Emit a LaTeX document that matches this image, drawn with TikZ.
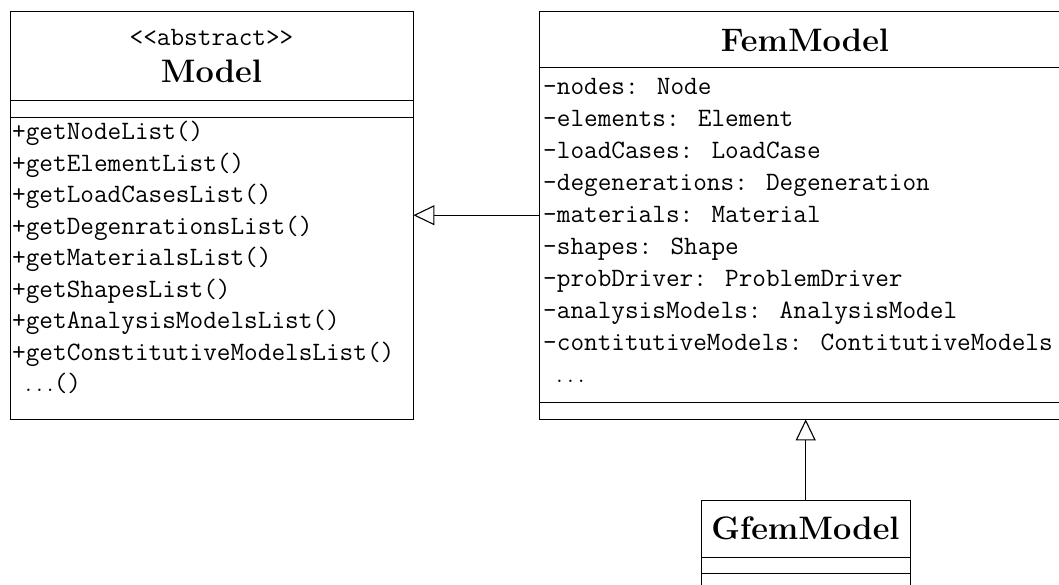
\documentclass[tikz,border=0pt]{standalone}
\usepackage{fontspec}
\usetikzlibrary{arrows.meta}
\newcommand{\monof}{\fontsize{26.5}{31.5}\selectfont\ttfamily}
\newcommand{\monofb}{\fontsize{26.5}{32}\selectfont\ttfamily}
\newcommand{\titlef}{\fontsize{32.5}{36}\selectfont\bfseries}
\tikzset{
  umlbox/.style={draw=black, line width=1.1pt, rectangle, inner sep=0pt, anchor=north west},
  rows/.style={anchor=north west, align=left, inner sep=0pt},
  whole/.style={rectangle, inner sep=0pt, anchor=north west},
  inherit/.style={line width=1.1pt, -{Triangle[open, length=21pt, width=20pt, line width=1.1pt]}}
}
\begin{document}
\begin{tikzpicture}[x=1pt, y=-1pt]
\useasboundingbox (0,0) rectangle (1059,584);
\clip (0,0) rectangle (1059,584);
% Model
\node[whole, minimum width=403pt, minimum height=408pt] (model) at (10,11) {};
\node[umlbox, minimum width=403pt, minimum height=89pt] (mhead) at (10,11) {};
\node[umlbox, minimum width=403pt, minimum height=17pt] (mattr) at (10,100) {};
\node[umlbox, minimum width=403pt, minimum height=302pt] (mops) at (10,117) {};
\node[font=\monof, inner sep=0pt] (mstereo) at (211.5,37) {<<abstract>>};
\node[font=\titlef, inner sep=0pt] (mtitle) at (211.5,71) {Model};
\node[rows, font=\monof] (moplist) at (12,121) {+getNodeList()\\+getElementList()\\+getLoadCasesList()\\+getDegenrationsList()\\+getMaterialsList()\\+getShapesList()\\+getAnalysisModelsList()\\+getConstitutiveModelsList()\\\hspace*{13pt}$\ldots$()};
% FemModel
\node[whole, minimum width=532pt, minimum height=408pt] (fem) at (539,11) {};
\node[umlbox, minimum width=532pt, minimum height=56pt] (fhead) at (539,11) {};
\node[umlbox, minimum width=532pt, minimum height=335pt] (fattr) at (539,67) {};
\node[umlbox, minimum width=532pt, minimum height=17pt] (fops) at (539,402) {};
\node[font=\titlef, inner sep=0pt] (ftitle) at (805,40) {FemModel};
\node[rows, font=\monofb] (fattrlist) at (543,78) {-nodes: Node\\-elements: Element\\-loadCases: LoadCase\\-degenerations: Degeneration\\-materials: Material\\-shapes: Shape\\-probDriver: ProblemDriver\\-analysisModels: AnalysisModel\\-contitutiveModels: ContitutiveModels\\\hspace*{13pt}$\ldots$};
% GfemModel
\node[whole, minimum width=209pt, minimum height=120pt] (gfem) at (701,500) {};
\node[umlbox, minimum width=209pt, minimum height=57pt] (ghead) at (701,500) {};
\node[umlbox, minimum width=209pt, minimum height=16pt] (gattr) at (701,557) {};
\node[umlbox, minimum width=209pt, minimum height=40pt] (gops) at (701,573) {};
\node[font=\titlef, inner sep=0pt] (gtitle) at (805.5,528) {GfemModel};
% connectors
\draw[inherit] (fem.west) -- (model.east);
\draw[inherit] (gfem.north) -- (gfem.north |- fem.south);
\end{tikzpicture}
\end{document}
